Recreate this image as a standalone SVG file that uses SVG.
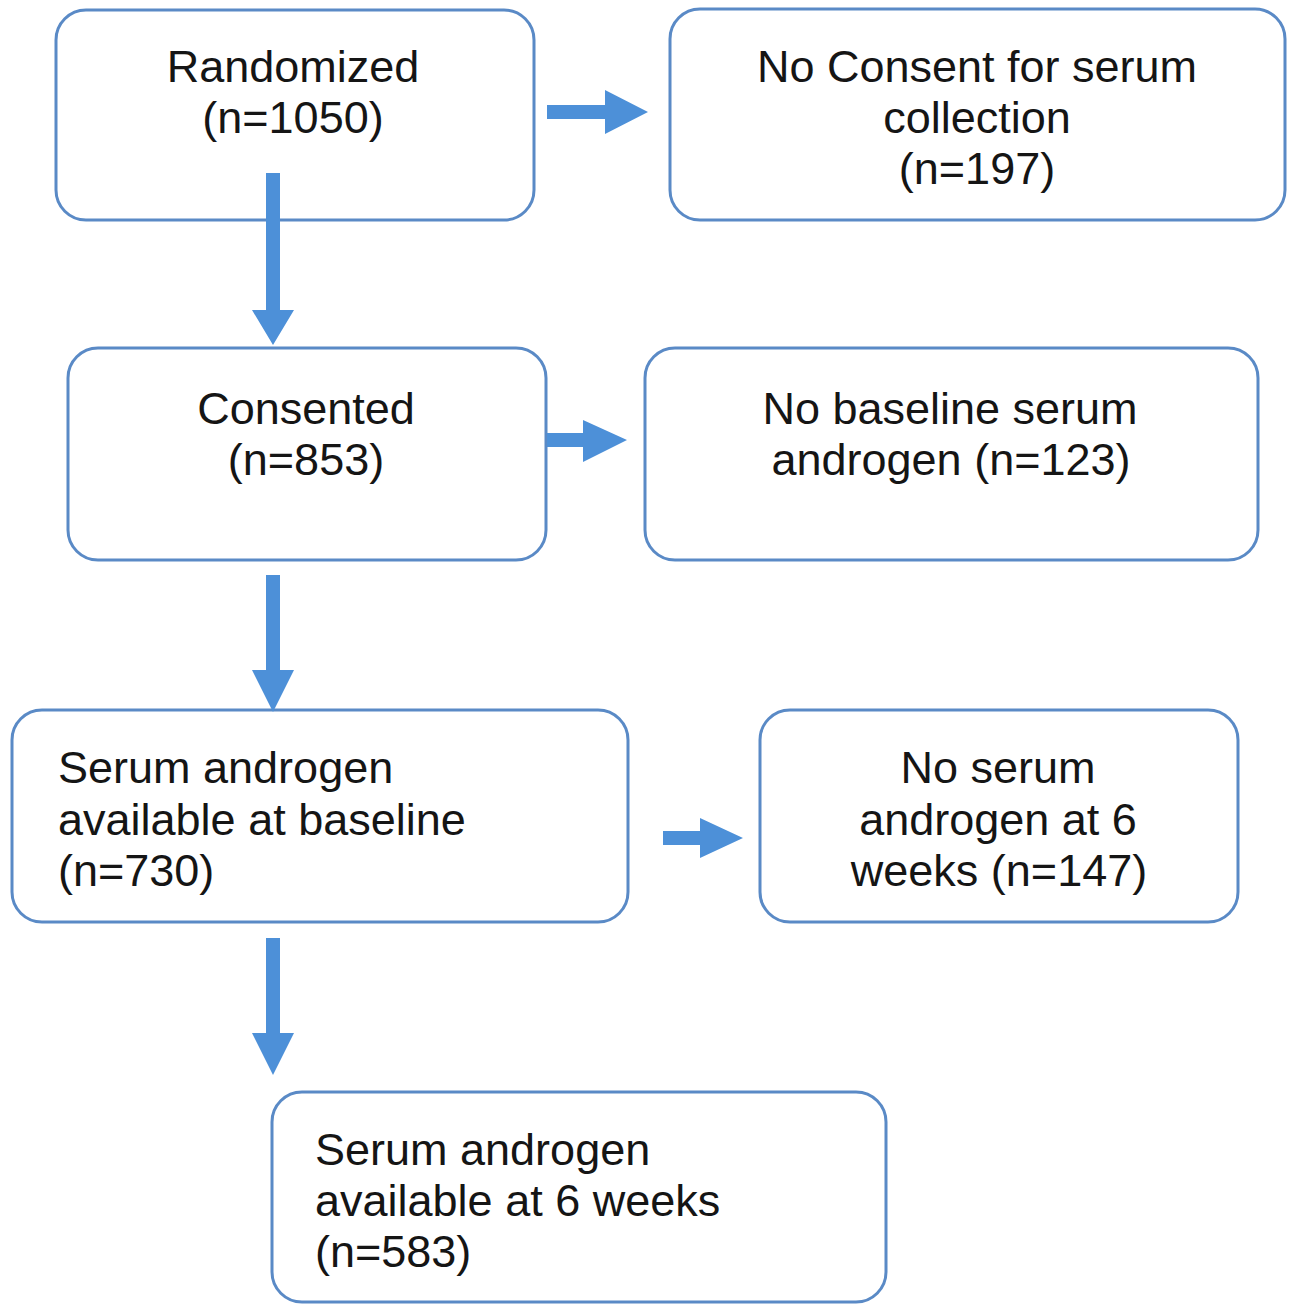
<svg xmlns="http://www.w3.org/2000/svg" width="1297" height="1306" viewBox="0 0 1297 1306">
<style>
.box{fill:#fff;stroke:#5a8ac6;stroke-width:3}
.arr{fill:#4d90d8}
text{font-family:"Liberation Sans",Arial,sans-serif;font-size:45px;fill:#151515}
.c{text-anchor:middle}
</style>
<rect x="0" y="0" width="1297" height="1306" fill="#fff"/>
<g id="n1"><rect class="box" x="56" y="10" width="478" height="210" rx="30"/><text class="c" x="293" y="82">Randomized</text><text class="c" x="293" y="133">(n=1050)</text></g>
<g id="n2"><rect class="box" x="670" y="9" width="615" height="211" rx="30"/><text class="c" x="977" y="82">No Consent for serum</text><text class="c" x="977" y="133">collection</text><text class="c" x="977" y="184">(n=197)</text></g>
<g id="n3"><rect class="box" x="68" y="348" width="478" height="212" rx="30"/><text class="c" x="306" y="424">Consented</text><text class="c" x="306" y="475">(n=853)</text></g>
<g id="n4"><rect class="box" x="645" y="348" width="613" height="212" rx="30"/><text class="c" x="950" y="424">No baseline serum</text><text class="c" x="951" y="475">androgen (n=123)</text></g>
<g id="n5"><rect class="box" x="12" y="710" width="616" height="212" rx="30"/><text x="58" y="783">Serum androgen</text><text x="58" y="835">available at baseline</text><text x="58" y="886">(n=730)</text></g>
<g id="n6"><rect class="box" x="760" y="710" width="478" height="212" rx="30"/><text class="c" x="998" y="783">No serum</text><text class="c" x="998" y="835">androgen at 6</text><text class="c" x="999" y="886">weeks (n=147)</text></g>
<g id="n7"><rect class="box" x="272" y="1092" width="614" height="210" rx="30"/><text x="315" y="1165">Serum androgen</text><text x="315" y="1216">available at 6 weeks</text><text x="315" y="1267">(n=583)</text></g>
<g id="connectors">
<polygon class="arr" points="547,105 605,105 605,90 648,112 605,134 605,119 547,119"/>
<polygon class="arr" points="266,173 280,173 280,310 294,310 273,345 252,310 266,310"/>
<polygon class="arr" points="547,433 583,433 583,420 627,440 583,462 583,447 547,447"/>
<polygon class="arr" points="266,575 280,575 280,670 294,670 273,712 252,670 266,670"/>
<polygon class="arr" points="663,831 700,831 700,818 743,838 700,858 700,845 663,845"/>
<polygon class="arr" points="266,938 280,938 280,1033 294,1033 273,1075 252,1033 266,1033"/>
</g>
</svg>
